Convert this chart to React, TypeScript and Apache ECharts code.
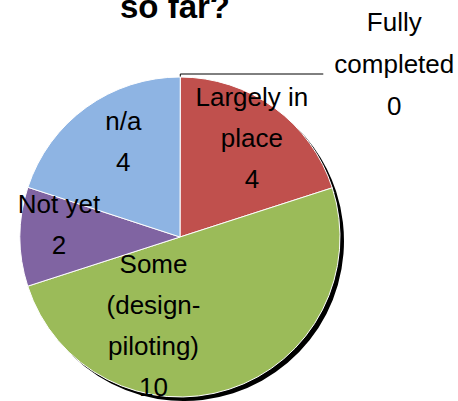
import React, { useEffect, useRef } from 'react';
import * as echarts from 'echarts';

const titleText = 'so far?';
const categories = ['Fully\ncompleted', 'Largely in\nplace', 'Some\n(design-\npiloting)', 'Not yet', 'n/a'];
const values = [0, 4, 10, 2, 4];

const sliceColors = ['#4F81BD', '#C0504D', '#9BBB59', '#8064A2', '#8EB4E3'];
const labelNudge = [[4, -10], [23, -32], [-52, 10], [-38, -12], [-8, -28]];

const FONT = '"Liberation Sans", Arial, sans-serif';
const START = 89.9;

export default function App() {
  const ref = useRef<HTMLDivElement>(null);
  useEffect(() => {
    const chart = echarts.init(ref.current!, null, { renderer: 'svg' });
    const data = categories.map((name, i) => {
      const item: any = { name, value: values[i], itemStyle: { color: sliceColors[i] } };
      if (values[i] === 0) {
        item.label = {
          position: 'outside',
          formatter: (p: any) =>
            String(p.name).split('\n').concat(String(p.value)).map((s: string) => `{t|${s}}`).join('\n'),
          rich: { t: { width: 124, align: 'center', fontSize: 26, lineHeight: 42, fontFamily: FONT, color: '#000' } },
        };
        item.labelLine = { show: true, length: 3, length2: 143, lineStyle: { color: '#000', width: 1 } };
      }
      return item;
    });
    const option: any = {
      animation: false,
      backgroundColor: '#fff',
      graphic: [
        {
          type: 'text',
          x: 175,
          y: -10,
          style: { text: titleText, font: `bold 33px ${FONT}`, fill: '#000', align: 'center', verticalAlign: 'top' },
        },
      ],
      series: [
        {
          type: 'pie',
          silent: true,
          center: [184, 241],
          radius: 160,
          startAngle: START,
          clockwise: true,
          z: 1,
          data: values.map((v) => ({ value: v })),
          itemStyle: { color: '#000', borderWidth: 0 },
          label: { show: false },
          labelLine: { show: false },
        },
        {
          type: 'pie',
          center: [180, 237],
          radius: 160,
          startAngle: START,
          clockwise: true,
          z: 2,
          avoidLabelOverlap: false,
          data,
          itemStyle: { borderColor: '#fff', borderWidth: 1 },
          label: {
            show: true,
            position: 'inside',
            formatter: '{b}\n{c}',
            fontFamily: FONT,
            fontSize: 26,
            lineHeight: 41,
            color: '#000',
            align: 'center',
            bleedMargin: 0,
            overflow: 'none',
          },
          labelLine: { show: false },
          labelLayout: (params: any) => {
            const n = labelNudge[params.dataIndex] || [0, 0];
            return { dx: n[0], dy: n[1] };
          },
        },
      ],
    };
    chart.setOption(option);
    return () => chart.dispose();
  }, []);
  return (
    <div
      ref={ref}
      style={{ position: 'fixed', left: 0, top: 0, width: 458, height: 401 }}
    />
  );
}
